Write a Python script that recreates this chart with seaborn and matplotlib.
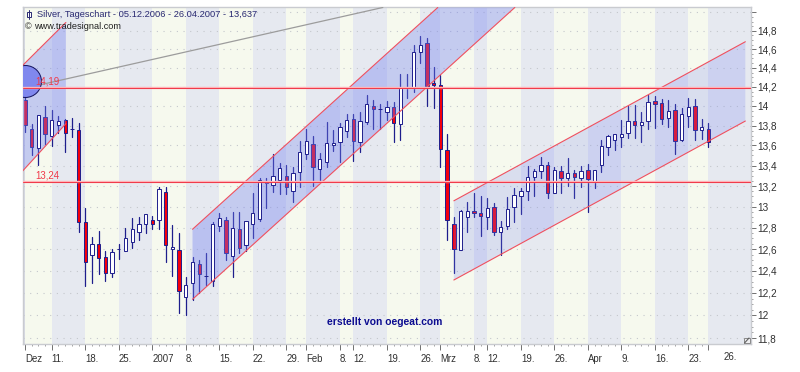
import matplotlib
matplotlib.use("Agg")
import matplotlib.pyplot as plt
import numpy as np
import pandas as pd
import seaborn as sns
from matplotlib.lines import Line2D
from matplotlib.patches import Rectangle, Polygon
from matplotlib.ticker import FixedLocator, FixedFormatter, NullFormatter

opens = [14.06,13.77,13.57,13.89,13.70,13.81,13.86,13.77,13.76,12.85,
 12.55,12.65,12.53,12.38,12.60,12.58,12.67,12.76,12.84,12.87,
 12.87,13.14,12.60,12.59,12.16,12.29,12.46,12.35,12.31,12.82,
 12.87,12.54,12.79,12.64,12.84,12.88,13.24,13.21,13.26,13.30,
 13.15,13.34,13.51,13.61,13.37,13.44,13.60,13.63,13.75,13.87,
 13.63,13.84,14.00,13.97,13.94,13.99,13.82,14.19,14.19,14.57,
 14.67,14.24,14.22,13.55,12.84,12.59,12.90,12.96,12.94,12.90,
 13.00,12.76,12.82,13.00,13.10,13.15,13.29,13.35,13.41,13.13,
 13.35,13.28,13.33,13.28,13.36,13.24,13.41,13.58,13.65,13.69,
 13.73,13.85,13.81,13.85,14.05,14.03,13.88,13.96,13.66,13.90,
 14.00,13.76,13.77]
closes = [13.81,13.58,13.91,13.72,13.86,13.85,13.73,13.77,12.85,12.48,
 12.65,12.52,12.38,12.57,12.60,12.70,12.79,12.84,12.93,12.84,
 13.17,12.64,12.62,12.22,12.27,12.48,12.37,12.35,12.84,12.89,
 12.56,12.80,12.61,12.86,12.94,13.26,13.23,13.30,13.38,13.19,
 13.33,13.53,13.64,13.39,13.47,13.62,13.62,13.79,13.86,13.64,
 13.85,14.02,13.97,13.97,13.99,13.83,14.20,14.19,14.57,14.65,
 14.21,14.22,13.56,12.87,12.60,12.96,12.96,12.94,12.91,12.99,
 12.76,12.81,12.98,13.11,13.15,13.29,13.35,13.41,13.13,13.36,
 13.28,13.33,13.29,13.35,13.27,13.36,13.59,13.70,13.72,13.72,
 13.85,13.81,13.84,14.04,14.02,13.87,13.95,13.64,13.92,13.99,
 13.76,13.79,13.637]
highs = [14.19,13.82,13.91,14.00,13.96,13.90,13.87,13.88,13.83,12.99,
 12.71,12.77,12.58,12.60,12.65,12.80,12.89,12.90,12.93,12.91,
 13.19,13.19,12.83,12.75,12.34,12.53,12.50,12.56,12.85,12.94,
 12.90,12.95,12.95,12.86,13.13,13.28,13.28,13.51,13.43,13.41,
 13.39,13.64,13.77,13.70,13.52,13.84,13.76,13.83,13.92,13.92,
 13.94,14.11,14.06,14.02,14.05,14.04,14.33,14.33,14.64,14.74,
 14.72,14.41,14.32,13.72,12.90,12.97,13.05,13.13,13.10,13.08,
 13.04,12.86,13.09,13.18,13.18,13.40,13.37,13.49,13.44,13.39,
 13.40,13.48,13.36,13.40,13.42,13.36,13.65,13.71,13.72,13.86,
 14.00,14.01,13.94,14.11,14.10,14.07,14.06,14.02,13.98,14.08,
 14.07,13.87,13.83]
lows = [13.74,13.50,13.41,13.61,13.59,13.73,13.53,13.69,12.76,12.26,
 12.29,12.37,12.31,12.34,12.51,12.58,12.61,12.69,12.75,12.79,
 12.79,12.48,12.35,12.02,12.00,12.14,12.20,12.27,12.26,12.77,
 12.50,12.34,12.56,12.58,12.70,12.86,12.99,13.14,13.12,13.12,
 13.05,13.19,13.47,13.20,13.24,13.39,13.54,13.44,13.69,13.45,
 13.53,13.82,13.77,13.77,13.86,13.63,13.65,14.08,14.15,14.45,
 14.00,13.98,13.39,12.69,12.38,12.59,12.76,12.90,12.72,12.79,
 12.73,12.55,12.79,12.85,12.93,13.06,13.10,13.28,13.08,13.13,
 13.13,13.20,13.08,13.19,12.95,13.18,13.34,13.50,13.55,13.58,
 13.68,13.68,13.63,13.77,13.78,13.82,13.79,13.51,13.64,13.79,
 13.66,13.67,13.58]

band_edges = [0,4,9,14,19,24,29,34,39,42,47,49,54,59,62,67,69,74,79,84,89,94,99,102,108.3]
date_labels = ["Dez","11.","18.","25.","2007","8.","15.","22.","29.","Feb","8.","12.",
               "19.","26.","Mrz","8.","12.","19.","26.","Apr","9.","16.","23.",""]
price_ticks = [15,14.8,14.6,14.4,14.2,14,13.8,13.6,13.4,13.2,13,12.8,12.6,12.4,12.2,12,11.8]
price_labels = ["","14,8","14,6","14,4","14,2","14","13,8","13,6","13,4","13,2","13","12,8","12,6","12,4","12,2","12","11,8"]
levels = [14.19, 13.24]
level_labels = ["14,19", "13,24"]
channels = [
    ([-1.0, 6.1], [14.38, 14.89], [13.30, 13.82], [6.1, -1.0], 0.38),
    ([25, 61.6], [12.786, 15.055], [12.143, 15.055], [73.1, 25], 0.38),
    ([64, 107.5], [13.057, 14.68], [12.317, 13.847], [107.5, 64], 0.22),
]
fan_x = [-1, 53.4]
fan_y = [14.17, 15.055]

W, H = 800, 372
sns.set_theme(style="white")
plt.rcParams["font.family"] = ["Liberation Sans", "DejaVu Sans"]
fig = plt.figure(figsize=(8, 3.72), dpi=100, facecolor="white")
L, T, R, B = 22.7, 7.3, 750.7, 344
ax = fig.add_axes([L/W, 1-B/H, (R-L)/W, (B-T)/H])
ax.set_yscale("log")
ax.set_xlim(-0.34, 108.3)
ax.set_ylim(11.75, 15.057)

LIGHT, GRAY = "#F6F9EE", "#E6E9F0"
ax.set_facecolor(GRAY)
ax.axvspan(-0.34, 0, color="#D8DAE4", lw=0, zorder=0)
for k in range(len(band_edges)-1):
    ax.axvspan(band_edges[k], band_edges[k+1], color=LIGHT if k % 2 == 0 else GRAY, lw=0, zorder=0)

for p in price_ticks:
    ax.axhline(p, color="#C4C7CC", lw=0.8, ls=(0, (1, 5)), zorder=1)

idx = np.arange(len(opens))
o, c, hi, lo = map(np.array, (opens, closes, highs, lows))
df = pd.DataFrame({"bar": np.r_[idx, idx], "price": np.r_[lo, hi]}).sort_values(["bar", "price"])
NAVY = "#1E1E8C"
sns.lineplot(data=df, x="bar", y="price", units="bar", estimator=None, color=NAVY,
             lw=0.9, legend=False, ax=ax, zorder=2, sort=False)
ax.set_xlabel(""); ax.set_ylabel("")

top = np.maximum(o, c); bot = np.minimum(o, c)
down = c < o
ax.bar(idx[down], (top-bot)[down], bottom=bot[down], width=0.5, color="#F4000C",
       edgecolor=NAVY, lw=0.7, zorder=2.5)

for ux, uy, ly, rx, a in channels:
    ax.add_patch(Polygon(list(zip(ux, uy)) + [(rx[0], ly[1]), (rx[1], ly[0])], closed=True,
                         fc=(0.45, 0.50, 0.95, a), ec="none", zorder=3))
    ax.plot(ux, uy, color="#F0505E", lw=0.8, zorder=5)
    ax.plot(rx, [ly[1], ly[0]], color="#F0505E", lw=0.8, zorder=5)

up = ~down
ax.bar(idx[up], (top-bot)[up], bottom=bot[up], width=0.5, color="white",
       edgecolor=NAVY, lw=0.7, zorder=4)

ax.plot(fan_x, fan_y, color="#9C9C9C", lw=0.9, zorder=3.5)
ax.plot([0.0], [14.26], marker="o", ms=23, mfc="#8088EE", mec="#10105A", mew=0.7, zorder=3.6)
for lv, txt in zip(levels, level_labels):
    ax.axhline(lv, color="#FFB4B8", lw=1.7, zorder=5)
    ax.axhline(lv, color="#F03848", lw=0.7, zorder=5.1)
    ax.annotate(txt, (1.6, lv), xytext=(0, 1.0), textcoords="offset points",
                color="#F03848", fontsize=7.0, va="bottom", zorder=6)

ax.set_xticks(band_edges[:-1])
ax.set_xticklabels(date_labels, ha="left", fontsize=6.9, color="#303030")
ax.xaxis.set_minor_locator(FixedLocator([i for i in range(0, 103)]))
ax.tick_params(axis="x", which="major", length=4, width=0.7, color="#707070", pad=3.2, bottom=True)
ax.tick_params(axis="x", which="minor", length=1.5, width=0.6, color="#909090", bottom=True)
ax.text(104.2, -0.0385, "26.", transform=ax.get_xaxis_transform(), fontsize=6.9, color="#303030", va="center")

ax.yaxis.tick_right()
ax.yaxis.set_major_locator(FixedLocator(price_ticks))
ax.yaxis.set_major_formatter(FixedFormatter(price_labels))
ax.yaxis.set_minor_locator(FixedLocator(np.arange(11.8, 15.01, 0.05)))
ax.yaxis.set_minor_formatter(NullFormatter())
ax.tick_params(axis="y", which="major", right=True, length=3.5, width=0.7, color="#707070", pad=1.5, labelsize=7.2, labelcolor="#303030")
ax.tick_params(axis="y", which="minor", right=True, length=1.2, width=0.6, color="#909090")
for s in ax.spines.values():
    s.set_color("#C9CBD0"); s.set_linewidth(1.0)

def fx(x): return x/W
def fy(y): return 1-y/H
fig.text(fx(36.7), fy(14.3), "Silver, Tageschart - 05.12.2006 - 26.04.2007 - 13,637", color="#2A2A72",
         fontsize=6.7, va="center")
fig.text(fx(25), fy(26.8), "\u00a9", color="#202020", fontsize=6.5, va="center")
fig.text(fx(34.5), fy(26.8), "www.tradesignal.com", color="#202020", fontsize=6.6, va="center")
fig.text(fx(327), fy(322), "erstellt von oegeat.com", color="#0A0A90", fontsize=7.4, fontweight="bold",
         family=["Liberation Sans"], va="center")
fig.add_artist(Line2D([fx(29), fx(29)], [fy(9.5), fy(18.5)], color="#2A2A72", lw=0.7))
fig.add_artist(Rectangle((fx(27), fy(16.5)), 4/W, 5/H, fc="white", ec="#2A2A72", lw=0.7, transform=fig.transFigure))
fig.add_artist(Rectangle((fx(743.5), fy(343)), 6/W, 5.5/H, fc="#EEEEF0", ec="#8A8A8A", lw=0.7, transform=fig.transFigure))
fig.add_artist(Line2D([fx(744.5), fx(749)], [fy(343), fy(338)], color="#606060", lw=0.8))
fig.savefig("out.png", dpi=100, facecolor="white")
